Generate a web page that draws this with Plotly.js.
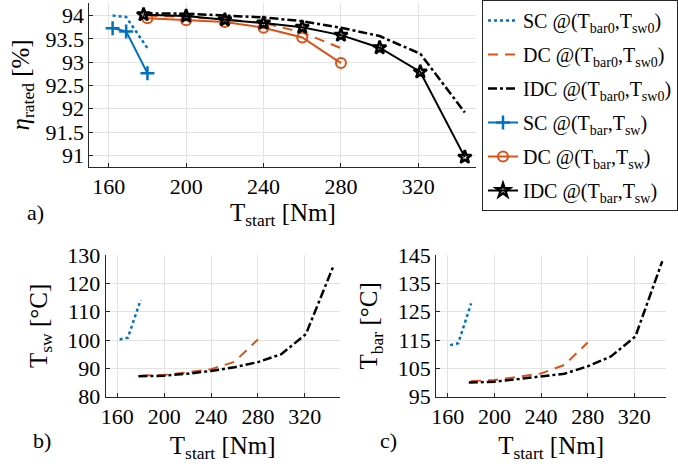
<!DOCTYPE html>
<html>
<head>
<meta charset="utf-8">
<script src="https://cdn.plot.ly/plotly-3.0.1.min.js"></script>
<style>html,body{margin:0;padding:0;background:#fff}#chart{width:678px;height:470px}</style>
</head>
<body>
<div id="chart"></div>
<script>
// Starting torque values [Nm]
const T_sc  = [162, 169, 180];
const T_dc  = [180, 200, 220, 240, 260, 280];
const T_idc = [178, 200, 220, 240, 260, 280, 300, 321, 344];

// Rated efficiency [%]
const eta_sc0  = [94.0, 93.97, 93.3];
const eta_dc0  = [94.0, 93.97, 93.92, 93.84, 93.64, 93.3];
const eta_idc0 = [94.05, 94.04, 94.0, 93.96, 93.88, 93.74, 93.56, 93.18, 91.92];
const eta_sc   = [93.73, 93.66, 92.76];
const eta_dc   = [93.94, 93.9, 93.86, 93.74, 93.53, 92.98];
const eta_idc  = [94.02, 93.99, 93.91, 93.84, 93.75, 93.58, 93.31, 92.79, 90.96];

// Stator winding temperature [°C]
const tsw_sc0  = [100.2, 100.8, 114.2];
const tsw_dc0  = [87.4, 87.7, 88.6, 89.7, 92.3, 100.2];
const tsw_idc0 = [87.2, 87.4, 88.1, 89.1, 90.4, 92.2, 95.0, 102.1, 125.6];

// Rotor bar temperature [°C]
const tbar_sc0  = [113.2, 113.9, 127.9];
const tbar_dc0  = [100.5, 100.9, 102.0, 103.2, 106.2, 114.1];
const tbar_idc0 = [100.0, 100.3, 101.2, 102.1, 103.1, 105.7, 109.2, 116.3, 142.8];

const names = [
  'SC @(T<sub>bar0</sub>,T<sub>sw0</sub>)',
  'DC @(T<sub>bar0</sub>,T<sub>sw0</sub>)',
  'IDC @(T<sub>bar0</sub>,T<sub>sw0</sub>)',
  'SC @(T<sub>bar</sub>,T<sub>sw</sub>)',
  'DC @(T<sub>bar</sub>,T<sub>sw</sub>)',
  'IDC @(T<sub>bar</sub>,T<sub>sw</sub>)'
];

const BLUE = '#0072BD', ORANGE = '#D95319', BLACK = '#000000';
const sty0 = [
  {color: BLUE, dash: 'dot', width: 2.5},
  {color: ORANGE, dash: '10px,7px', width: 2},
  {color: BLACK, dash: 'dashdot', width: 2.5}
];

const traces = [];
function lines0(xa, ya, ys, show) {
  const xs = [T_sc, T_dc, T_idc];
  for (let i = 0; i < 3; i++) {
    traces.push({x: xs[i], y: ys[i], xaxis: xa, yaxis: ya, mode: 'lines',
      line: sty0[i], name: names[i], showlegend: show, legendgroup: 'g' + i});
  }
}
lines0('x', 'y', [eta_sc0, eta_dc0, eta_idc0], true);
traces.push({x: T_sc, y: eta_sc, xaxis: 'x', yaxis: 'y', mode: 'lines+markers', name: names[3], legendgroup: 'g3',
  line: {color: BLUE, width: 2}, marker: {symbol: 'cross-thin-open', size: 10, line: {color: BLUE, width: 2.5}}});
traces.push({x: T_dc, y: eta_dc, xaxis: 'x', yaxis: 'y', mode: 'lines+markers', name: names[4], legendgroup: 'g4',
  line: {color: ORANGE, width: 2}, marker: {symbol: 'circle-open', size: 10, color: ORANGE, line: {color: ORANGE, width: 2}}});
traces.push({x: T_idc, y: eta_idc, xaxis: 'x', yaxis: 'y', mode: 'lines+markers', name: names[5], legendgroup: 'g5',
  line: {color: BLACK, width: 2}, marker: {symbol: 'star-open', size: 10, color: BLACK, line: {color: BLACK, width: 2.5}}});
lines0('x2', 'y2', [tsw_sc0, tsw_dc0, tsw_idc0], false);
lines0('x3', 'y3', [tbar_sc0, tbar_dc0, tbar_idc0], false);

const FONT = 'Liberation Serif, Times New Roman, serif';
const W = 678, H = 470;
function px(a, b) { return [a / W, b / W]; }
function py(top, bot) { return [1 - bot / H, 1 - top / H]; }

function xax(dom, range, anchor, so) {
  return {domain: dom, range: range, anchor: anchor, tickvals: [160, 200, 240, 280, 320],
    ticks: 'inside', ticklen: 4, tickcolor: '#262626', showline: true, linecolor: '#262626', linewidth: 1,
    showgrid: true, gridcolor: '#e3e3e3', gridwidth: 1, zeroline: false,
    tickfont: {family: FONT, size: 22, color: '#000'},
    title: {text: 'T<sub>start</sub> [Nm]', font: {family: FONT, size: 25, color: '#000'}, standoff: so}};
}
function yax(dom, range, anchor, tv, tt, title, so) {
  return {domain: dom, range: range, anchor: anchor, tickvals: tv, ticktext: tt,
    ticks: 'inside', ticklen: 4, tickcolor: '#262626', showline: true, linecolor: '#262626', linewidth: 1,
    showgrid: true, gridcolor: '#e3e3e3', gridwidth: 1, zeroline: false,
    tickfont: {family: FONT, size: 22, color: '#000'},
    title: {text: title, font: {family: FONT, size: 25, color: '#000'}, standoff: so}};
}

const layout = {
  width: W, height: H, margin: {l: 0, r: 0, t: 0, b: 0},
  paper_bgcolor: '#fff', plot_bgcolor: '#fff',
  font: {family: FONT, color: '#000'},
  xaxis: xax(px(91, 485), [150, 350], 'y', 4),
  yaxis: yax(py(3, 166.7), [90.755, 94.27], 'x', [91, 91.5, 92, 92.5, 93, 93.5, 94],
    ['91', '91.5', '92', '92.5', '93', '93.5', '94'], '<i>η</i><sub>rated</sub> [%]', 8),
  xaxis2: xax(px(107.5, 346), [150, 350], 'y2', 8),
  yaxis2: yax(py(255, 396.7), [80, 130], 'x2', [80, 90, 100, 110, 120, 130],
    ['80', '90', '100', '110', '120', '130'], 'T<sub>sw</sub> [°C]', 12),
  xaxis3: xax(px(444, 678), [150, 347.2], 'y3', 8),
  yaxis3: yax(py(255, 396.7), [95, 145], 'x3', [95, 105, 115, 125, 135, 145],
    ['95', '105', '115', '125', '135', '145'], 'T<sub>bar</sub> [°C]', 12),
  showlegend: true,
  legend: {x: 491 / W, xanchor: 'left', y: 1, yanchor: 'top', bgcolor: '#fff',
    bordercolor: '#262626', borderwidth: 1, font: {family: FONT, size: 20, color: '#000'},
    itemwidth: 30, tracegroupgap: 5},
  annotations: [
    {text: 'a)', x: 36 / W, y: 1 - 212 / H, xref: 'paper', yref: 'paper', showarrow: false,
      xanchor: 'center', yanchor: 'middle', font: {family: FONT, size: 22, color: '#000'}},
    {text: 'b)', x: 43 / W, y: 1 - 440 / H, xref: 'paper', yref: 'paper', showarrow: false,
      xanchor: 'center', yanchor: 'middle', font: {family: FONT, size: 22, color: '#000'}},
    {text: 'c)', x: 396 / W, y: 1 - 440 / H, xref: 'paper', yref: 'paper', showarrow: false,
      xanchor: 'center', yanchor: 'middle', font: {family: FONT, size: 22, color: '#000'}}
  ]
};

Plotly.newPlot('chart', traces, layout, {staticPlot: true, displayModeBar: false});
</script>
</body>
</html>
